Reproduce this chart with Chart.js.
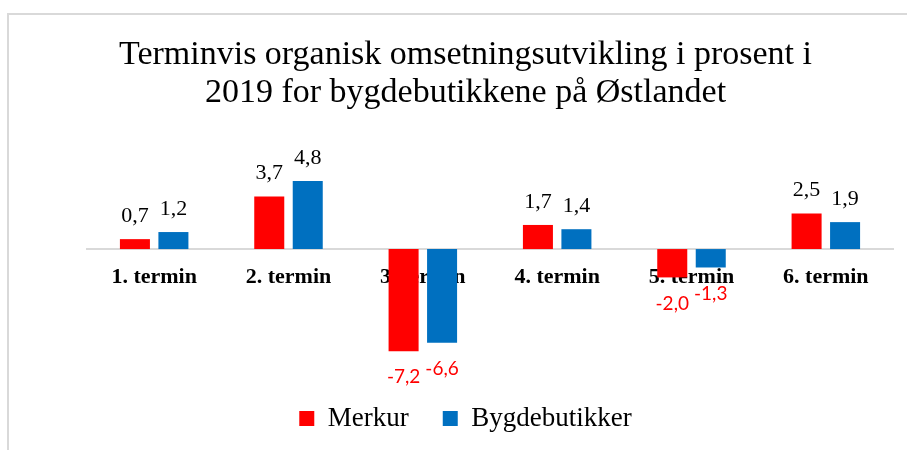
<!DOCTYPE html>
<html>
<head>
<meta charset="utf-8">
<script src="https://cdn.jsdelivr.net/npm/chart.js@4"></script>
<style>
  html, body { margin: 0; padding: 0; background: #fff; }
  #wrap { position: relative; width: 907px; height: 450px; overflow: hidden; }
  #frame { position: absolute; left: 7px; top: 13px; width: 960px; height: 500px;
           border-top: 2px solid #d9d9d9; border-left: 2px solid #d9d9d9; }
  canvas { position: absolute; left: 0; top: 0; }
</style>
</head>
<body>
<div id="wrap">
  <div id="frame"></div>
  <canvas id="c" width="907" height="450"></canvas>
</div>
<script>
const categories = ["1. termin", "2. termin", "3. termin", "4. termin", "5. termin", "6. termin"];
const merkur = [0.7, 3.7, -7.2, 1.7, -2.0, 2.5];
const bygdebutikker = [1.2, 4.8, -6.6, 1.4, -1.3, 1.9];
const seriesNames = ["Merkur", "Bygdebutikker"];
const titleLines = ["Terminvis organisk omsetningsutvikling i prosent i", "2019 for bygdebutikkene på Østlandet"];

const SERIF = "'Liberation Serif', 'Times New Roman', serif";
const SANS = "Lato, 'Liberation Sans', sans-serif";

const fmt = v => v.toFixed(1).replace('.', ',');

const valueLabels = {
  id: 'valueLabels',
  afterDatasetsDraw(chart) {
    const ctx = chart.ctx;
    ctx.save();
    ctx.textAlign = 'center';
    ctx.textBaseline = 'middle';
    chart.data.datasets.forEach((ds, di) => {
      const meta = chart.getDatasetMeta(di);
      meta.data.forEach((bar, i) => {
        const v = ds.data[i];
        if (v >= 0) {
          ctx.fillStyle = '#000';
          ctx.font = "22px " + SERIF;
          ctx.fillText(fmt(v), bar.x, bar.y - 23);
        } else {
          ctx.fillStyle = '#ff0000';
          ctx.font = "19px " + SANS;
          ctx.fillText(fmt(v), bar.x, bar.y + 26);
        }
      });
    });
    ctx.restore();
  }
};

new Chart(document.getElementById('c'), {
  type: 'bar',
  data: {
    labels: categories,
    datasets: [
      { label: seriesNames[0], data: merkur, backgroundColor: '#ff0000', categoryPercentage: 0.573, barPercentage: 0.78 },
      { label: seriesNames[1], data: bygdebutikker, backgroundColor: '#0070c0', categoryPercentage: 0.573, barPercentage: 0.78 }
    ]
  },
  options: {
    responsive: false,
    animation: false,
    layout: { padding: { left: 24, right: 0, top: 0, bottom: 8 } },
    plugins: {
      tooltip: { enabled: false },
      title: {
        display: true,
        text: titleLines,
        color: '#000',
        font: { family: SERIF, size: 34, weight: 'normal', lineHeight: 38 / 34 },
        padding: { top: 36, bottom: 69 }
      },
      legend: {
        display: true,
        position: 'bottom',
        labels: {
          color: '#000',
          font: { family: SERIF, size: 27 },
          boxWidth: 15,
          boxHeight: 15,
          padding: 34
        }
      }
    },
    scales: {
      x: {
        position: { y: 0 },
        grid: { display: false, drawTicks: false },
        border: { display: true, color: '#d9d9d9', width: 2 },
        ticks: { color: '#000', padding: 15, font: { family: SERIF, size: 22, weight: 'bold' } }
      },
      y: {
        position: 'left',
        min: -8.6,
        max: 4.8,
        grid: { display: false, drawTicks: false },
        border: { display: false },
        ticks: { display: false },
        afterFit(s) { s.width = 63; }
      },
      y2: {
        type: 'linear',
        position: 'right',
        grid: { display: false, drawTicks: false },
        border: { display: false },
        ticks: { display: false },
        afterFit(s) { s.width = 14; }
      }
    }
  },
  plugins: [valueLabels]
});
</script>
</body>
</html>
